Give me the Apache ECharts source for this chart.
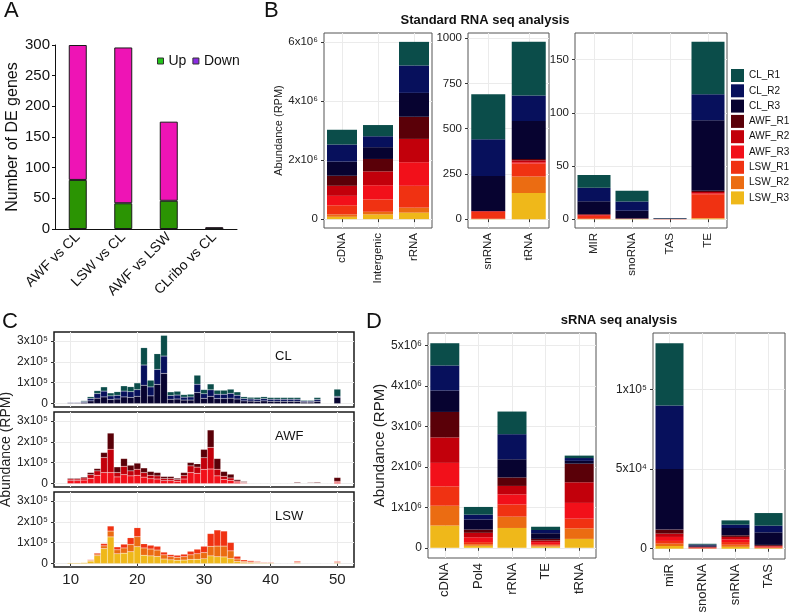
<!DOCTYPE html>
<html>
<head>
<meta charset="utf-8">
<script src="https://cdn.jsdelivr.net/npm/echarts@6/dist/echarts.min.js"></script>
<style>
  html, body { margin: 0; padding: 0; background: #fff; }
  #chart { width: 792px; height: 613px; }
</style>
</head>
<body>
<div id="chart"></div>
<script>
// ---- panel A: DE genes ----
const deComparisons = ['AWF vs CL', 'LSW vs CL', 'AWF vs LSW', 'CLribo vs CL'];
const deUp = [80, 42, 46, 0];
const deDown = [220, 254, 129, 3];

// ---- replicates (legend order, ggplot stacks first level on top) ----
const replicates = ['CL_R1', 'CL_R2', 'CL_R3', 'AWF_R1', 'AWF_R2', 'AWF_R3', 'LSW_R1', 'LSW_R2', 'LSW_R3'];
const repColors = ['#0b4d4a', '#07105c', '#070330', '#5a0008', '#c2000b', '#f2101a', '#f03212', '#eb6c12', '#efb81a'];

// ---- panel B: standard RNA seq (rows = replicates) ----
const stdCatsLong = ['cDNA', 'Intergenic', 'rRNA'];
const stdLong = [
  [500000, 380000, 800000],
  [580000, 370000, 930000],
  [480000, 400000, 810000],
  [340000, 420000, 750000],
  [340000, 470000, 790000],
  [320000, 480000, 800000],
  [310000, 420000, 740000],
  [80000, 90000, 170000],
  [80000, 160000, 220000]
];
const stdCatsMid = ['snRNA', 'tRNA'];
const stdMid = [
  [249, 296], [202, 142], [194, 209], [1, 7], [1, 11], [3, 8], [38, 71], [1, 91], [1, 145]
];
const stdCatsSmall = ['MIR', 'snoRNA', 'TAS', 'TE'];
const stdSmall = [
  [12, 10.2, 0.3, 49.3],
  [12.7, 8.6, 0.3, 24.5],
  [12, 7.3, 0.3, 66.2],
  [0.6, 0.1, 0.05, 1.3],
  [0.6, 0.1, 0.05, 1],
  [0.6, 0.1, 0.05, 1],
  [2.5, 0.3, 0.05, 22.3],
  [0.3, 0.05, 0.02, 0.6],
  [0.2, 0.05, 0.02, 0.6]
];

// ---- panel C: read length distribution ----
const lengthBins = [10,11,12,13,14,15,16,17,18,19,20,21,22,23,24,25,26,27,28,29,30,31,32,33,34,35,36,37,38,39,40,41,42,43,44,45,46,47,48,49,50];
const clLenR1 = [2000,2000,4000,8000,14000,20000,14000,17000,25000,24000,32000,83000,32000,75000,99000,17000,18000,12000,13000,43000,20000,28000,19000,19000,20000,16000,9000,8000,9000,9000,8000,8000,8000,8000,8000,4000,4000,9000,0,0,34000];
const clLenR2 = [3000,3000,5000,12000,22000,28000,17000,18000,28000,27000,32000,97000,43000,72000,83000,18000,19000,14000,15000,40000,22000,31000,21000,21000,23000,18000,11000,10000,10000,11000,10000,10000,10000,10000,10000,5000,5000,9000,0,0,5000];
const clLenR3 = [3000,3000,5000,13000,26000,32000,20000,22000,32000,30000,35000,88000,37000,92000,145000,21000,22000,17000,17000,53000,25000,35000,24000,24000,26000,22000,13000,12000,11000,13000,11000,11000,11000,11000,11000,7000,7000,11000,0,0,30000];
const awfLenR1 = [4000,4000,5000,10000,11000,24000,77000,27000,37000,27000,29000,22000,18000,16000,10000,10000,7000,15000,16000,16000,40000,83000,51000,23000,18000,7000,4000,2000,2000,2000,2000,2000,2000,2000,4000,2000,3000,4000,1000,1000,18000];
const awfLenR2 = [8000,8000,10000,18000,21000,72000,112000,21000,40000,24000,29000,22000,17000,15000,10000,10000,8000,16000,32000,30000,56000,104000,32000,15000,12000,5000,3000,2000,1000,1000,1000,1000,1000,1000,2000,1000,1000,2000,500,500,5000];
const awfLenR3 = [14000,14000,17000,25000,40000,53000,53000,32000,43000,37000,40000,31000,23000,22000,14000,14000,11000,22000,53000,49000,68000,70000,37000,20000,15000,7000,3000,2000,2000,2000,2000,2000,2000,2000,2000,2000,2000,2000,500,500,6000];
const lswLenR1 = [1000,1000,1000,3000,5000,11000,24000,14000,18000,32000,43000,20000,18000,18000,13000,10000,10000,12000,17000,22000,30000,61000,77000,72000,40000,13000,7000,6000,4000,3000,3000,2000,2000,2000,6000,2000,1000,1000,500,500,5000];
const lswLenR2 = [1000,1000,2000,4000,8000,13000,28000,19000,25000,35000,48000,35000,33000,31000,20000,15000,14000,16000,22000,26000,30000,46000,51000,52000,37000,12000,6000,4000,3000,2000,2000,2000,1000,1000,2000,1000,1000,1000,300,300,2000];
const lswLenR3 = [4000,4000,5000,12000,38000,72000,128000,47000,50000,57000,81000,40000,37000,34000,22000,18000,16000,17000,20000,21000,23000,37000,33000,32000,24000,10000,5000,4000,3000,3000,3000,2000,2000,2000,3000,2000,1000,1000,200,200,3000];
const lengthTicks = [10, 20, 30, 40, 50];

// ---- panel D: sRNA seq (rows = replicates) ----
const sCatsLong = ['cDNA', 'Pol4', 'rRNA', 'TE', 'tRNA'];
const sLong = [
  [550000, 190000, 560000, 80000, 60000],
  [620000, 120000, 620000, 80000, 70000],
  [530000, 250000, 450000, 140000, 70000],
  [630000, 80000, 210000, 40000, 460000],
  [630000, 110000, 210000, 40000, 510000],
  [580000, 120000, 250000, 50000, 390000],
  [480000, 50000, 300000, 30000, 240000],
  [490000, 40000, 280000, 30000, 260000],
  [550000, 50000, 490000, 30000, 220000]
];
const sCatsSmall = ['miR', 'snoRNA', 'snRNA', 'TAS'];
const sSmall = [
  [39000, 500, 2700, 7900],
  [40000, 500, 2100, 4200],
  [38000, 800, 4600, 7900],
  [2500, 300, 1000, 600],
  [2100, 300, 1500, 400],
  [2500, 300, 1700, 400],
  [1700, 200, 1700, 400],
  [1500, 100, 1300, 300],
  [1700, 100, 1200, 300]
];

const SUP = '⁰¹²³⁴⁵⁶⁷⁸⁹';
function sci(v) {
  if (v === 0) return '0';
  const e = Math.floor(Math.log10(v) + 1e-9);
  const m = Math.round(v / Math.pow(10, e));
  return m + 'x10' + String(e).split('').map(d => SUP[+d]).join('');
}
function majorOnly(step, fmt) {
  return v => {
    const q = v / step;
    return Math.abs(q - Math.round(q)) < 1e-6 ? fmt(v) : '';
  };
}
function majorTicks(step, max) {
  const t = [];
  for (let v = 0; v <= max + 1e-9; v += step) t.push(v);
  return t;
}

const labelColor = '#222';
const gridLine = { show: true, lineStyle: { color: '#ebebeb', width: 1 } };

function valueY(grid, min, max, step, major, fontSize, extra) {
  return Object.assign({
    type: 'value', gridIndex: grid, min: min, max: max,
    minInterval: step, maxInterval: step,
    axisLine: { show: false },
    axisTick: { show: true, length: 3, lineStyle: { color: '#333' }, customValues: majorTicks(major, max) },
    axisLabel: { fontSize: fontSize, color: labelColor, margin: 6, formatter: majorOnly(major, sci) },
    splitLine: gridLine
  }, extra || {});
}
function catX(grid, cats, fontSize) {
  return {
    type: 'category', gridIndex: grid, data: cats,
    axisLine: { show: false },
    axisTick: { show: true, alignWithLabel: true, length: 3, lineStyle: { color: '#333' } },
    axisLabel: { rotate: 90, fontSize: fontSize, color: labelColor, margin: 5 },
    splitLine: { show: true, alignWithLabel: true, lineStyle: { color: '#ebebeb' } }
  };
}
function lengthX(grid, showLabels) {
  return {
    type: 'value', gridIndex: grid, min: 7.5, max: 52.5, minInterval: 5, maxInterval: 5,
    axisLine: { show: false },
    axisTick: { show: showLabels, length: 3, lineStyle: { color: '#333' }, customValues: lengthTicks },
    axisLabel: { show: showLabels, fontSize: 15, color: labelColor, margin: 5, formatter: majorOnly(10, v => String(v)) },
    splitLine: gridLine
  };
}

// stacked bars: ECharts stacks bottom-up, so walk the replicates in reverse
function stackedPanel(grid, matrix, stackName, barWidth) {
  const out = [];
  for (let r = replicates.length - 1; r >= 0; r--) {
    out.push({
      type: 'bar', name: replicates[r], xAxisIndex: grid, yAxisIndex: grid,
      stack: stackName, barWidth: barWidth, data: matrix[r],
      itemStyle: { color: repColors[r] }
    });
  }
  return out;
}
// value x axis: keep RPM in column 0 so the stack runs on y, length in column 1
function lengthPanel(grid, firstRep, rows, stackName) {
  const out = [];
  for (let r = rows.length - 1; r >= 0; r--) {
    out.push({
      type: 'bar', name: replicates[firstRep + r], xAxisIndex: grid, yAxisIndex: grid,
      stack: stackName, barWidth: 6.7,
      encode: { x: 1, y: 0 },
      data: lengthBins.map((b, i) => [rows[r][i], b]),
      itemStyle: { color: repColors[firstRep + r], borderColor: 'rgba(255,255,255,0.3)', borderWidth: 0.4 }
    });
  }
  return out;
}

const panelBox = { show: true, borderColor: '#555', borderWidth: 1, outerBoundsMode: 'none' };
const facetBox = { show: true, borderColor: '#1a1a1a', borderWidth: 1.5, outerBoundsMode: 'none' };

const chart = echarts.init(document.getElementById('chart'));
chart.setOption({
  animation: false,
  textStyle: { fontFamily: 'Liberation Sans, Arial, sans-serif' },
  title: [
    { text: 'A', left: 4, top: 0, padding: 0, textStyle: { fontSize: 22, fontWeight: 'normal', color: '#111' } },
    { text: 'B', left: 264, top: 0, padding: 0, textStyle: { fontSize: 22, fontWeight: 'normal', color: '#111' } },
    { text: 'C', left: 2, top: 311, padding: 0, textStyle: { fontSize: 22, fontWeight: 'normal', color: '#111' } },
    { text: 'D', left: 366, top: 311, padding: 0, textStyle: { fontSize: 22, fontWeight: 'normal', color: '#111' } },
    { text: 'Standard RNA seq analysis', left: 485, top: 14, padding: 0, textAlign: 'center', textStyle: { fontSize: 13, fontWeight: 'bold', color: '#111' } },
    { text: 'sRNA seq analysis', left: 619, top: 314, padding: 0, textAlign: 'center', textStyle: { fontSize: 13, fontWeight: 'bold', color: '#111' } },
    { text: 'CL', left: 275, top: 350, padding: 0, textStyle: { fontSize: 13, fontWeight: 'normal', color: '#111' } },
    { text: 'AWF', left: 275, top: 430, padding: 0, textStyle: { fontSize: 13, fontWeight: 'normal', color: '#111' } },
    { text: 'LSW', left: 275, top: 510, padding: 0, textStyle: { fontSize: 13, fontWeight: 'normal', color: '#111' } }
  ],
  legend: [
    {
      data: [
        { name: 'Up', itemStyle: { color: '#22c41a', borderColor: '#333', borderWidth: 1 } },
        { name: 'Down', itemStyle: { color: '#8a2be2', borderColor: '#333', borderWidth: 1 } }
      ],
      left: 157, top: 54, padding: 0, icon: 'rect', itemWidth: 6, itemHeight: 6, itemGap: 6,
      textStyle: { fontSize: 14, color: '#111' }
    },
    {
      data: replicates, orient: 'vertical', left: 731, top: 69, padding: 0, icon: 'rect',
      itemWidth: 13, itemHeight: 13, itemGap: 2.3,
      textStyle: { fontSize: 10, color: '#111' }
    }
  ],
  grid: [
    { left: 55, top: 45, width: 182, height: 184, outerBoundsMode: 'none' },
    Object.assign({ left: 324, top: 33, width: 108, height: 195 }, panelBox),
    Object.assign({ left: 468, top: 33, width: 81, height: 195 }, panelBox),
    Object.assign({ left: 575, top: 33, width: 152, height: 195 }, panelBox),
    Object.assign({ left: 54, top: 332, width: 300, height: 75 }, facetBox),
    Object.assign({ left: 54, top: 412, width: 300, height: 75 }, facetBox),
    Object.assign({ left: 54, top: 492, width: 300, height: 75 }, facetBox),
    Object.assign({ left: 428, top: 333, width: 168, height: 225 }, panelBox),
    Object.assign({ left: 653, top: 333, width: 132, height: 226 }, panelBox)
  ],
  xAxis: [
    {
      type: 'category', gridIndex: 0, data: deComparisons,
      axisLine: { show: true, lineStyle: { color: '#111', width: 1 } },
      axisTick: { show: false },
      axisLabel: { rotate: 45, fontSize: 14, color: '#111', margin: 6, interval: 0 }
    },
    catX(1, stdCatsLong, 11.5),
    catX(2, stdCatsMid, 11.5),
    catX(3, stdCatsSmall, 11.5),
    lengthX(4, false),
    lengthX(5, false),
    lengthX(6, true),
    catX(7, sCatsLong, 13),
    catX(8, sCatsSmall, 13)
  ],
  yAxis: [
    {
      type: 'value', gridIndex: 0, min: 0, max: 300, interval: 50,
      name: 'Number of DE genes', nameLocation: 'middle', nameGap: 33,
      nameTextStyle: { fontSize: 16, color: '#111' },
      axisLine: { show: true, lineStyle: { color: '#111', width: 1 } },
      axisTick: { show: true, length: 3, lineStyle: { color: '#111' } },
      axisLabel: { fontSize: 15, color: '#111', margin: 5 },
      splitLine: { show: false }
    },
    valueY(1, -300500, 6310500, 1000000, 2000000, 11.5, {
      name: 'Abundance (RPM)', nameLocation: 'middle', nameGap: 34,
      nameTextStyle: { fontSize: 11, color: labelColor }
    }),
    Object.assign(valueY(2, -49, 1029, 125, 250, 11.5), {
      axisLabel: { fontSize: 11.5, color: labelColor, margin: 6, formatter: majorOnly(250, v => String(v)) }
    }),
    Object.assign(valueY(3, -8.3, 175.1, 25, 50, 11.5), {
      axisLabel: { fontSize: 11.5, color: labelColor, margin: 6, formatter: majorOnly(50, v => String(v)) }
    }),
    valueY(4, -16350, 343350, 50000, 100000, 12),
    valueY(5, -16350, 343350, 50000, 100000, 12, {
      name: 'Abundance (RPM)', nameLocation: 'middle', nameGap: 24,
      nameTextStyle: { fontSize: 14, color: labelColor }
    }),
    valueY(6, -16350, 343350, 50000, 100000, 12),
    valueY(7, -253000, 5313000, 500000, 1000000, 12, {
      name: 'Abundance (RPM)', nameLocation: 'middle', nameGap: 29,
      nameTextStyle: { fontSize: 15, color: labelColor }
    }),
    valueY(8, -6450, 135450, 25000, 50000, 12)
  ],
  series: [
    {
      type: 'bar', name: 'Up', xAxisIndex: 0, yAxisIndex: 0, stack: 'de', barWidth: 18,
      data: deUp, itemStyle: { color: '#2b9403', borderColor: '#1a1a1a', borderWidth: 1 }
    },
    {
      type: 'bar', name: 'Down', xAxisIndex: 0, yAxisIndex: 0, stack: 'de', barWidth: 18,
      data: deDown, itemStyle: { color: '#ee14b5', borderColor: '#1a1a1a', borderWidth: 1 }
    }
  ]
    .concat(stackedPanel(1, stdLong, 'b1', 30))
    .concat(stackedPanel(2, stdMid, 'b2', 34))
    .concat(stackedPanel(3, stdSmall, 'b3', 33))
    .concat(lengthPanel(4, 0, [clLenR1, clLenR2, clLenR3], 'cCL'))
    .concat(lengthPanel(5, 3, [awfLenR1, awfLenR2, awfLenR3], 'cAWF'))
    .concat(lengthPanel(6, 6, [lswLenR1, lswLenR2, lswLenR3], 'cLSW'))
    .concat(stackedPanel(7, sLong, 'd1', 29))
    .concat(stackedPanel(8, sSmall, 'd2', 28))
});
</script>
</body>
</html>
